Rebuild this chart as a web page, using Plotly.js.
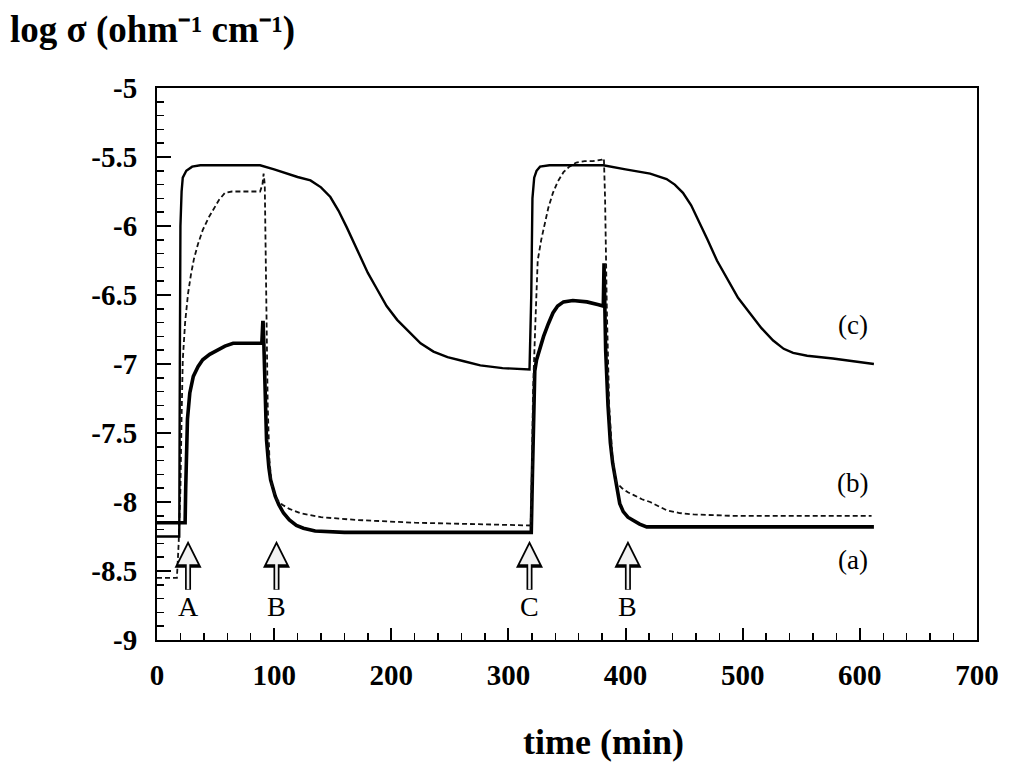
<!DOCTYPE html>
<html>
<head>
<meta charset="utf-8">
<script src="https://cdn.plot.ly/plotly-3.0.1.min.js"></script>
<style>html,body{margin:0;padding:0;background:#fff;}#chart{width:1024px;height:774px;}</style>
</head>
<body>
<div id="chart"></div>
<script>
// Curve (a) - bold solid
var tA = [0, 24, 24.5, 25, 26, 28, 31, 35, 39, 45, 51, 58, 65, 75, 89.5, 90.3, 90.6, 91.2, 92, 93.5, 95.5, 97, 101, 104, 108, 113, 119, 125, 135, 160, 200, 250, 300, 319.5, 320.5, 321.5, 322.5, 324, 327, 330, 334, 338, 342, 347, 355, 367, 377, 381, 381.6, 382.2, 383, 385, 387, 389, 391, 393, 395, 398, 402, 406, 412, 418, 430, 480, 550, 612];
var yA = [-8.15, -8.15, -7.9, -7.6, -7.4, -7.21, -7.09, -7.02, -6.97, -6.93, -6.90, -6.87, -6.85, -6.85, -6.85, -6.70, -6.70, -6.85, -7.2, -7.55, -7.75, -7.84, -7.96, -8.02, -8.08, -8.13, -8.17, -8.19, -8.21, -8.22, -8.22, -8.22, -8.22, -8.22, -7.8, -7.2, -7.05, -6.97, -6.88, -6.80, -6.71, -6.63, -6.58, -6.55, -6.54, -6.55, -6.57, -6.58, -6.27, -6.58, -6.9, -7.3, -7.57, -7.72, -7.82, -7.92, -8.01, -8.07, -8.11, -8.13, -8.16, -8.18, -8.18, -8.18, -8.18, -8.18];

// Curve (b) - dashed
var tB = [0, 17, 18.5, 20, 21, 22, 24, 26.5, 29, 31.5, 35, 39, 44, 48, 53, 58, 64, 75, 88, 90, 91, 92, 93, 94.5, 96, 98, 102, 107, 113, 122, 140, 170, 220, 270, 319, 320, 321, 323, 325, 328, 331, 334, 338, 342, 347, 352, 358, 365, 372, 378, 380, 381.5, 382.5, 384, 386, 389, 392, 397, 402, 407, 414, 421, 428, 435, 446, 458, 490, 530, 570, 610];
var yB = [-8.55, -8.55, -8.3, -7.9, -7.38, -6.97, -6.7, -6.49, -6.35, -6.24, -6.13, -6.03, -5.94, -5.88, -5.81, -5.76, -5.75, -5.75, -5.75, -5.70, -5.62, -5.7, -6.5, -7.3, -7.7, -7.88, -7.98, -8.02, -8.05, -8.08, -8.11, -8.13, -8.15, -8.16, -8.17, -7.8, -7.2, -6.7, -6.25, -6.1, -5.98, -5.87, -5.76, -5.68, -5.61, -5.57, -5.54, -5.53, -5.53, -5.52, -5.52, -5.51, -5.8, -6.6, -7.3, -7.7, -7.86, -7.90, -7.93, -7.95, -7.98, -8.0, -8.03, -8.06, -8.08, -8.09, -8.10, -8.10, -8.10, -8.10];

// Curve (c) - medium solid
var tC = [0, 19, 19.5, 20, 21, 22, 25, 30, 37, 50, 70, 88, 100, 110, 120, 131, 140, 148, 155, 162, 168, 173, 180, 188, 196, 205, 214, 225, 236, 248, 262, 276, 295, 318, 319.5, 320.5, 322, 324, 327, 335, 350, 370, 381, 400, 421, 428, 435, 442, 449, 456, 463, 470, 478, 487, 496, 506, 516, 526, 535, 543, 555, 577, 595, 612];
var yC = [-8.25, -8.25, -7.0, -6.0, -5.75, -5.65, -5.60, -5.57, -5.56, -5.56, -5.56, -5.56, -5.59, -5.62, -5.645, -5.67, -5.72, -5.79, -5.89, -6.01, -6.12, -6.22, -6.34, -6.46, -6.58, -6.68, -6.76, -6.85, -6.91, -6.95, -6.98, -7.01, -7.03, -7.04, -6.5, -5.8, -5.65, -5.6, -5.57, -5.56, -5.56, -5.56, -5.56, -5.59, -5.62, -5.64, -5.66, -5.70, -5.76, -5.85, -5.97, -6.10, -6.25, -6.39, -6.52, -6.63, -6.74, -6.83, -6.89, -6.92, -6.94, -6.96, -6.98, -7.0];

// Curve labels
var curveLabels = ['(c)', '(b)', '(a)'];
var curveLabelX = [594, 594, 594];
var curveLabelY = [-6.72, -7.86, -8.42];

// Event arrows (switch times) and their letters
var eventLabels = ['A', 'B', 'C', 'B'];
var eventTimes = [26.5, 102, 318, 402];
var eventArrowTip = -8.28;

var xTicks = [0, 100, 200, 300, 400, 500, 600, 700];
var yTicks = [-5, -5.5, -6, -6.5, -7, -7.5, -8, -8.5, -9];
var yTickText = ['-5', '-5.5', '-6', '-6.5', '-7', '-7.5', '-8', '-8.5', '-9'];

var serif = 'Liberation Serif, Times New Roman, serif';

var traces = [
  {x: tA, y: yA, mode: 'lines', line: {color: '#000', width: 3.6}, name: '(a)'},
  {x: tB, y: yB, mode: 'lines', line: {color: '#111', width: 1.8, dash: '5px,3px'}, name: '(b)'},
  {x: tC, y: yC, mode: 'lines', line: {color: '#000', width: 2.4}, name: '(c)'}
];

var annotations = [];
curveLabels.forEach(function (s, i) {
  annotations.push({x: curveLabelX[i], y: curveLabelY[i], xref: 'x', yref: 'y', text: s,
    showarrow: false, font: {family: serif, size: 27, color: '#000'}});
});
eventTimes.forEach(function (t, i) {
  // outer black arrow carrying the event letter
  annotations.push({x: t, y: eventArrowTip, xref: 'x', yref: 'y', text: eventLabels[i], showarrow: true,
    ax: 0, ay: 66, arrowhead: 2, arrowsize: 0.9, arrowwidth: 6, arrowcolor: '#000',
    font: {family: serif, size: 28, color: '#000'}});
  // inner light core, giving the hollow look
  annotations.push({x: t, y: eventArrowTip, xref: 'x', yref: 'y', text: '', showarrow: true,
    ax: 0, ay: 50, arrowhead: 2, arrowsize: 1.5, arrowwidth: 2.6, arrowcolor: '#f2f2f2', standoff: 4});
});
annotations.push({xref: 'paper', yref: 'paper', x: -0.182, y: 1.105, xanchor: 'left', yanchor: 'middle',
  text: 'log σ (ohm⁻¹ cm⁻¹)', showarrow: false,
  font: {family: serif, size: 37, color: '#000', weight: 'bold'}});
annotations.push({xref: 'paper', yref: 'paper', x: 0.545, y: -0.185, xanchor: 'center', yanchor: 'middle',
  text: 'time (min)', showarrow: false,
  font: {family: serif, size: 36, color: '#000', weight: 'bold'}});

var layout = {
  width: 1024, height: 774,
  margin: {l: 157, r: 47, t: 88, b: 134},
  paper_bgcolor: '#fff', plot_bgcolor: '#fff',
  showlegend: false,
  xaxis: {
    range: [0, 700], tickvals: xTicks, ticktext: xTicks.map(String),
    ticks: 'inside', ticklen: 12, tickwidth: 2, tickcolor: '#000',
    minor: {dtick: 20, ticks: 'inside', ticklen: 7, tickwidth: 1.5, tickcolor: '#000'},
    showline: true, linecolor: '#000', linewidth: 2, mirror: true,
    showgrid: false, zeroline: false,
    tickfont: {family: serif, size: 29, color: '#000', weight: 'bold'},
    ticklabelstandoff: 8
  },
  yaxis: {
    range: [-9, -5], tickvals: yTicks, ticktext: yTickText,
    ticks: 'inside', ticklen: 14, tickwidth: 2, tickcolor: '#000',
    minor: {dtick: 0.1, tick0: -9, ticks: 'inside', ticklen: 7, tickwidth: 1.5, tickcolor: '#000'},
    showline: true, linecolor: '#000', linewidth: 2, mirror: true,
    showgrid: false, zeroline: false,
    tickfont: {family: serif, size: 29, color: '#000', weight: 'bold'},
    ticklabelstandoff: 12
  },
  annotations: annotations
};

Plotly.newPlot('chart', traces, layout, {staticPlot: true, displayModeBar: false});
</script>
</body>
</html>
